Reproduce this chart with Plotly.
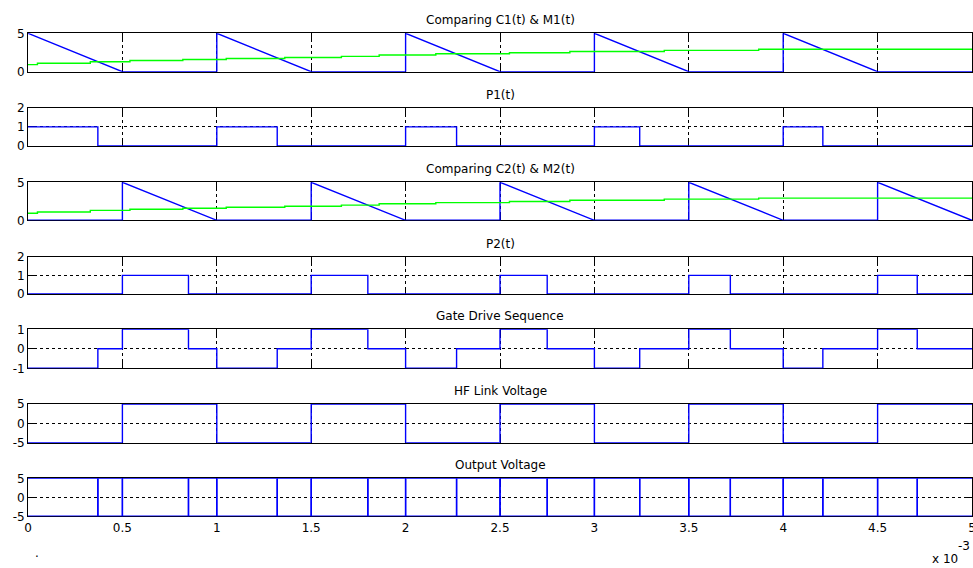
import plotly.graph_objects as go

# ---------------- data (time in units of 1e-3 s) ----------------
carrier1_t = [0, 0.5, 1.0, 1.0, 1.5, 2.0, 2.0, 2.5, 3.0, 3.0, 3.5, 4.0, 4.0, 4.5, 5.0]
carrier1_v = [5, 0, 0, 5, 0, 0, 5, 0, 0, 5, 0, 0, 5, 0, 0]

carrier2_t = [0, 0.5, 0.5, 1.0, 1.5, 1.5, 2.0, 2.5, 2.5, 3.0, 3.5, 3.5, 4.0, 4.5, 4.5, 5.0]
carrier2_v = [0, 0, 5, 0, 0, 5, 0, 0, 5, 0, 0, 5, 0, 0, 5, 0]

mod_t = [0, 0.05, 0.33, 0.54, 0.82, 1.05, 1.36, 1.66, 1.86, 2.16, 2.55, 2.87, 3.37, 3.87, 5.0]
mod_v = [0.92, 1.1, 1.3, 1.45, 1.58, 1.72, 1.85, 2.0, 2.18, 2.33, 2.47, 2.63, 2.78, 2.92, 2.92]

p1_t = [0, 0.37, 1.0, 1.32, 2.0, 2.27, 3.0, 3.24, 4.0, 4.21, 5.0]
p1_v = [1, 0, 1, 0, 1, 0, 1, 0, 1, 0, 0]

p2_t = [0, 0.5, 0.85, 1.5, 1.80, 2.5, 2.75, 3.5, 3.72, 4.5, 4.71, 5.0]
p2_v = [0, 1, 0, 1, 0, 1, 0, 1, 0, 1, 0, 0]

gate_t = [0, 0.37, 0.5, 0.85, 1.0, 1.32, 1.5, 1.80, 2.0, 2.27, 2.5, 2.75,
          3.0, 3.24, 3.5, 3.72, 4.0, 4.21, 4.5, 4.71, 5.0]
gate_v = [-1, 0, 1, 0, -1, 0, 1, 0, -1, 0, 1, 0, -1, 0, 1, 0, -1, 0, 1, 0, 0]

hf_t = [0, 0.5, 1.0, 1.5, 2.0, 2.5, 3.0, 3.5, 4.0, 4.5, 5.0]
hf_v = [-5, 5, -5, 5, -5, 5, -5, 5, -5, 5, 5]

out_t = [0, 0.37, 0.5, 0.85, 1.0, 1.32, 1.5, 1.80, 2.0, 2.27, 2.5, 2.75,
         3.0, 3.24, 3.5, 3.72, 4.0, 4.21, 4.5, 4.71, 5.0]
out_v = [5, -5, 5, -5, 5, -5, 5, -5, 5, -5, 5, -5, 5, -5, 5, -5, 5, -5, 5, -5, -5]

titles = ["Comparing C1(t) & M1(t)", "P1(t)", "Comparing C2(t) & M2(t)", "P2(t)",
          "Gate Drive Sequence", "HF Link Voltage", "Output Voltage"]
x_ticks = [0, 0.5, 1, 1.5, 2, 2.5, 3, 3.5, 4, 4.5, 5]
x_tick_labels = ["0", "0.5", "1", "1.5", "2", "2.5", "3", "3.5", "4", "4.5", "5"]
y_ranges = [[0, 5], [0, 2], [0, 5], [0, 2], [-1, 1], [-5, 5], [-5, 5]]
y_ticks = [[0, 5], [0, 1, 2], [0, 5], [0, 1, 2], [-1, 0, 1], [-5, 0, 5], [-5, 0, 5]]
y_tick_labels = [["0", "5"], ["0", "1", "2"], ["0", "5"], ["0", "1", "2"],
                 ["-1", "0", "1"], ["-5", "0", "5"], ["-5", "0", "5"]]
exp_label = "x 10"
exp_power = "-3"

# ---------------- layout geometry ----------------
W, H = 973, 568
L, R = 28, 1
tops = [33.3, 107.7, 182.3, 256.7, 329.3, 404.0, 478.3]
bots = [71.7, 146.0, 220.3, 294.0, 368.3, 442.7, 516.3]
BLUE = "#0000ff"
GREEN = "#00ff00"
FONT = "DejaVu Sans"
PW = W - L - R

fig = go.Figure()

def add(x, y, i, color=BLUE, shape="linear", width=1.4):
    fig.add_trace(go.Scatter(x=x, y=y, mode="lines", line=dict(color=color, width=width, shape=shape),
                             xaxis=f"x{i}", yaxis=f"y{i}", showlegend=False, hoverinfo="skip"))

add(carrier1_t, carrier1_v, 1)
add(mod_t, mod_v, 1, GREEN, "hv")
add(p1_t, p1_v, 2, shape="hv")
add(carrier2_t, carrier2_v, 3)
add(mod_t, mod_v, 3, GREEN, "hv")
add(p2_t, p2_v, 4, shape="hv")
add(gate_t, gate_v, 5, shape="hv")
add(hf_t, hf_v, 6, shape="hv")
add(out_t, out_v, 7, shape="hv")
add(out_t, [-v for v in out_v], 7, shape="hv")

layout = dict(template="none", width=W, height=H, autosize=False,
              margin=dict(l=L, r=R, t=0, b=0, pad=0),
              paper_bgcolor="white", plot_bgcolor="white",
              font=dict(family=FONT, size=12, color="black"),
              annotations=[])

for k in range(7):
    i = k + 1
    dom = [1 - bots[k] / H, 1 - tops[k] / H]
    xa = dict(domain=[0, 1], range=[0, 5], anchor=f"y{i}", tickmode="array",
              tickvals=x_ticks, ticktext=x_tick_labels, ticklabeloverflow="allow",
              showticklabels=(i == 7), ticks="inside", ticklen=7, tickcolor="black", tickwidth=1,
              showline=True, linecolor="black", linewidth=1, mirror="ticks",
              showgrid=True, gridcolor="black", griddash="dot", gridwidth=1,
              zeroline=False, automargin=False,
              tickfont=dict(family=FONT, size=12, color="black"),
              layer="below traces", fixedrange=True)
    ya = dict(domain=dom, range=y_ranges[k], anchor=f"x{i}", tickmode="array",
              tickvals=y_ticks[k], ticktext=y_tick_labels[k], ticklabeloverflow="allow",
              ticks="inside", ticklen=7, tickcolor="black", tickwidth=1,
              showline=True, linecolor="black", linewidth=1, mirror="ticks",
              showgrid=True, gridcolor="black", griddash="dot", gridwidth=1,
              zeroline=False, automargin=False,
              tickfont=dict(family=FONT, size=12, color="black"),
              layer="below traces", fixedrange=True)
    if i > 1:
        xa["matches"] = "x"
    layout[f"xaxis{'' if i == 1 else i}"] = xa
    layout[f"yaxis{'' if i == 1 else i}"] = ya
    layout["annotations"].append(dict(text=titles[k], x=0.5, xref="paper", y=dom[1], yref="paper",
                                      yanchor="middle", xanchor="center", yshift=13,
                                      showarrow=False, font=dict(family=FONT, size=12, color="black")))

# exponent label and stray dot
layout["annotations"].append(dict(text=exp_label, x=(960 - L) / PW, xref="paper", xanchor="right",
                                  y=0, yref="paper", yanchor="bottom", showarrow=False,
                                  font=dict(family=FONT, size=12, color="black")))
layout["annotations"].append(dict(text=exp_power, x=1, xref="paper", xanchor="right",
                                  y=1 - 546 / H, yref="paper", yanchor="middle", showarrow=False,
                                  font=dict(family=FONT, size=12, color="black")))
layout["annotations"].append(dict(text=".", x=(37 - L) / PW, xref="paper", xanchor="center",
                                  y=1 - 553 / H, yref="paper", yanchor="middle", showarrow=False,
                                  font=dict(family=FONT, size=12, color="black")))

fig.update_layout(**layout)
fig.write_html("out.html", config={"displayModeBar": False},
               post_script="document.body.style.margin='0';document.body.style.overflow='hidden';")
